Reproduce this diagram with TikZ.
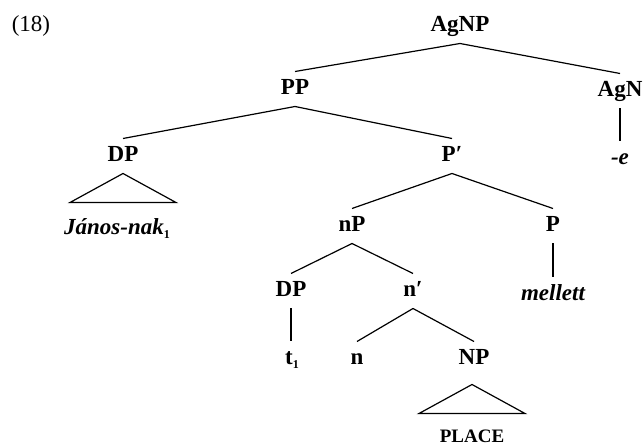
\documentclass[tikz,border=0pt]{standalone}
\usepackage{fontspec}
\setmainfont{Liberation Serif}
\newcommand{\idx}[1]{\raisebox{-2pt}{\fontsize{6}{6}\selectfont\upshape #1}}
\begin{document}
\begin{tikzpicture}[
	x = 0.5pt,
	y = -0.5pt,
	line width = 0.6pt,
	cat/.style = {
		font = \fontsize{11.5}{13}\selectfont\bfseries,
		inner xsep = 1pt,
		inner ysep = 3.2pt,
		text height = 8pt,
		text depth = 2.5pt,
	},
]
	
	\useasboundingbox (0,0) rectangle (643,448);
	
	\node[font = \fontsize{11.5}{13}\selectfont, name = exnum] at (31,26) {(18)};
	
	% upper part of the tree
	\node[cat, name = agnp] at (460,26) {AgNP};
	\node[cat, name = pp] at (295,89) {PP};
	\node[cat, name = agn] at (620,91) {AgN};
	\node[cat, name = suff] at (620,159) {\itshape -e};
	\node[cat, name = dpa] at (123,156) {DP};
	\node[cat, name = janos] at (117,229) {\itshape János-nak\idx{1}};
	\node[cat, name = pbar] at (452,156) {P′};
	
	% lower part of the tree
	\node[cat, name = nP] at (352,226) {nP};
	\node[cat, name = p] at (553,226) {P};
	\node[cat, name = mellett] at (553,295) {\itshape mellett};
	\node[cat, name = dpb] at (291,291) {DP};
	\node[cat, name = nbar] at (413,291) {n′};
	\node[cat, name = trace] at (292,359) {t\idx{1}};
	\node[cat, name = n] at (357,359) {n};
	\node[cat, name = NP] at (474,359) {NP};
	\node[cat, font = \fontsize{9.5}{11}\selectfont\bfseries, name = place]
		at (472,437) {PLACE};
	
	\draw (agnp.south) -- (pp.north);
	\draw (agnp.south) -- (agn.north);
	\draw (agn.south) -- (agn.south |- suff.north);
	\draw (pp.south) -- (dpa.north);
	\draw (pp.south) -- (pbar.north);
	\draw (pbar.south) -- (nP.north);
	\draw (pbar.south) -- (p.north);
	\draw (p.south) -- (mellett.north);
	\draw (nP.south) -- (dpb.north);
	\draw (nP.south) -- (nbar.north);
	\draw (dpb.south) -- (dpb.south |- trace.north);
	\draw (nbar.south) -- (n.north);
	\draw (nbar.south) -- (NP.north);
	
	% triangles
	\draw (dpa.south) -- ++(-53,29) -- ++(106,0) -- cycle;
	\draw (NP.south) ++(-2,8) -- ++(-53,29) -- ++(106,0) -- cycle;
	
\end{tikzpicture}
\end{document}
